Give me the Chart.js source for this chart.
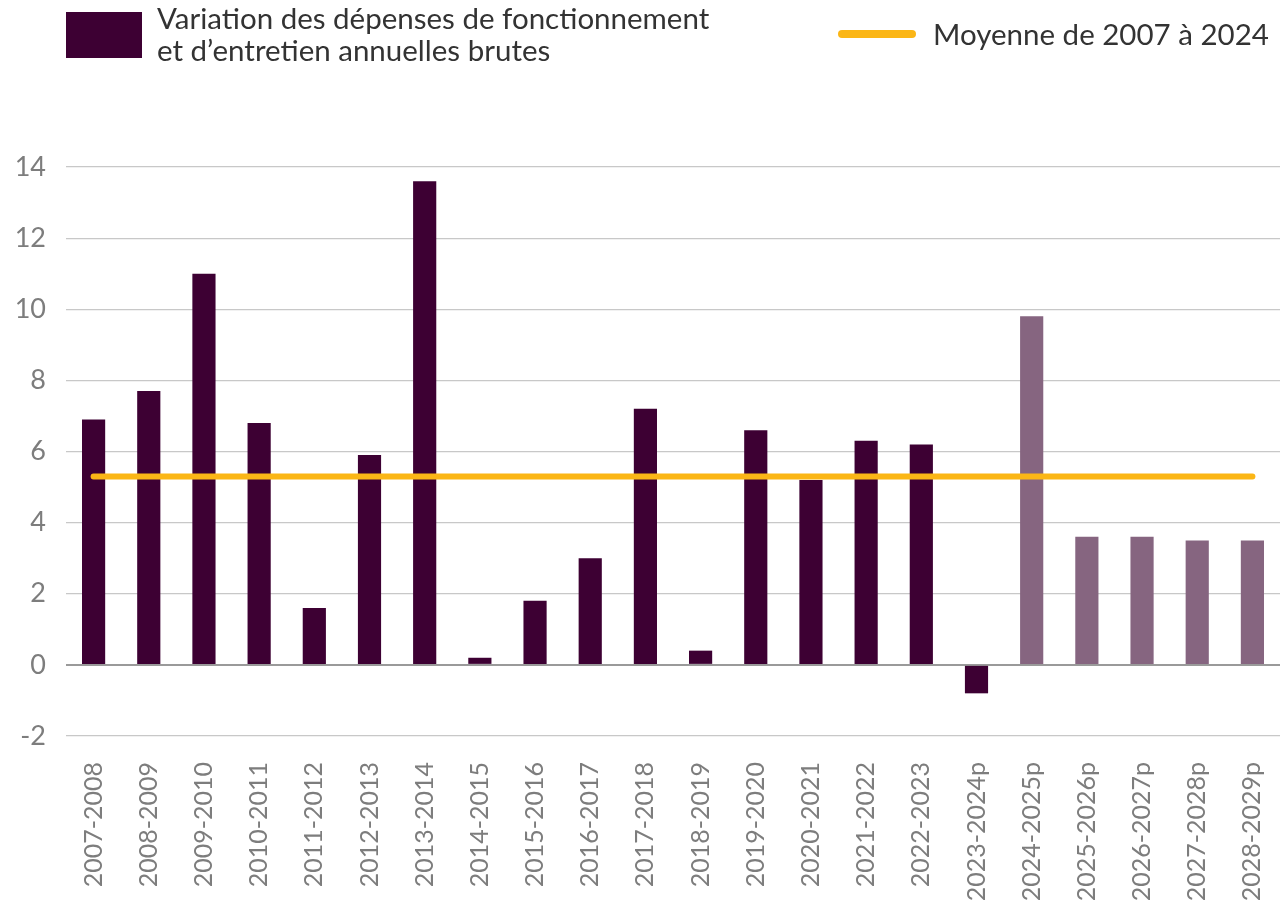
<!DOCTYPE html>
<html>
<head>
<meta charset="utf-8">
<script src="https://cdn.jsdelivr.net/npm/chart.js@4"></script>
<style>
  body { margin: 0; background: #fff; font-family: Lato, sans-serif; }
  #wrap { position: relative; width: 1283px; height: 909px; }
  #legend { position: absolute; top: 0; left: 0; width: 1283px; height: 90px; color: #333; font-size: 29.5px; }
  .box { position: absolute; left: 66px; top: 12px; width: 76px; height: 46px; background: #3d0033; }
  .t1 { position: absolute; left: 157px; top: 2px; line-height: 32px; white-space: nowrap; }
  .ln { position: absolute; left: 838px; top: 30px; width: 78px; height: 8px; border-radius: 4px; background: #fbb616; }
  .t2 { position: absolute; left: 933px; top: 18px; line-height: 32px; white-space: nowrap; }
  canvas { position: absolute; top: 0; left: 0; }
</style>
</head>
<body>
<div id="wrap">
  <canvas id="chartCanvas" width="1283" height="909"></canvas>
  <div id="legend">
    <div class="box"></div>
    <div class="t1">Variation des dépenses de fonctionnement<br>et d’entretien annuelles brutes</div>
    <div class="ln"></div>
    <div class="t2">Moyenne de 2007 à 2024</div>
  </div>
</div>
<script>
const labels = [
    '2007-2008', '2008-2009', '2009-2010', '2010-2011', '2011-2012', '2012-2013',
    '2013-2014', '2014-2015', '2015-2016', '2016-2017', '2017-2018', '2018-2019',
    '2019-2020', '2020-2021', '2021-2022', '2022-2023', '2023-2024p', '2024-2025p',
    '2025-2026p', '2026-2027p', '2027-2028p', '2028-2029p'
];
// Variation annuelle (%)
const variation = [6.9, 7.7, 11.0, 6.8, 1.6, 5.9, 13.6, 0.2, 1.8, 3.0, 7.2, 0.4,
    6.6, 5.2, 6.3, 6.2, -0.8, 9.8, 3.6, 3.6, 3.5, 3.5];
const moyenne = 5.3;
const firstProjected = 17; // from 2024-2025p the bars are lighter

const barColors = labels.map((l, i) => i >= firstProjected ? '#866580' : '#3d0033');

const data = {
    labels: labels,
    datasets: [
        {
            type: 'line',
            label: 'Moyenne de 2007 à 2024',
            data: labels.map(() => moyenne),
            borderColor: '#fbb616',
            backgroundColor: '#fbb616',
            borderWidth: 6,
            borderCapStyle: 'round',
            pointRadius: 0,
            order: 0
        },
        {
            type: 'bar',
            label: 'Variation des dépenses de fonctionnement et d’entretien annuelles brutes',
            data: variation,
            backgroundColor: barColors,
            barPercentage: 0.42,
            categoryPercentage: 1.0,
            order: 1
        }
    ]
};

const config = {
    data: data,
    options: {
        responsive: false,
        animation: false,
        layout: { padding: { top: 167, right: 3, bottom: 4, left: 0 } },
        plugins: {
            legend: { display: false },
            tooltip: { enabled: false }
        },
        scales: {
            x: {
                grid: { display: false },
                border: { display: false },
                ticks: {
                    minRotation: 90,
                    maxRotation: 90,
                    autoSkip: false,
                    color: '#7d7d7d',
                    padding: 18,
                    font: { family: 'Lato', size: 25 }
                },
                afterFit: axis => {
                    axis.height = 169;
                    axis.paddingLeft = 0;
                    axis.paddingRight = 0;
                }
            },
            y: {
                min: -2,
                max: 14,
                border: { display: false },
                grid: {
                    color: ctx => ctx.tick && ctx.tick.value === 0 ? '#9a9a9a' : '#c8c8c8',
                    lineWidth: ctx => ctx.tick && ctx.tick.value === 0 ? 2 : 1.2,
                    drawTicks: false
                },
                ticks: {
                    stepSize: 2,
                    color: '#7d7d7d',
                    padding: 20,
                    font: { family: 'Lato', size: 27 }
                },
                afterFit: axis => { axis.width = 66; }
            }
        }
    }
};

const myChart = new Chart(document.getElementById('chartCanvas'), config);
</script>
</body>
</html>
